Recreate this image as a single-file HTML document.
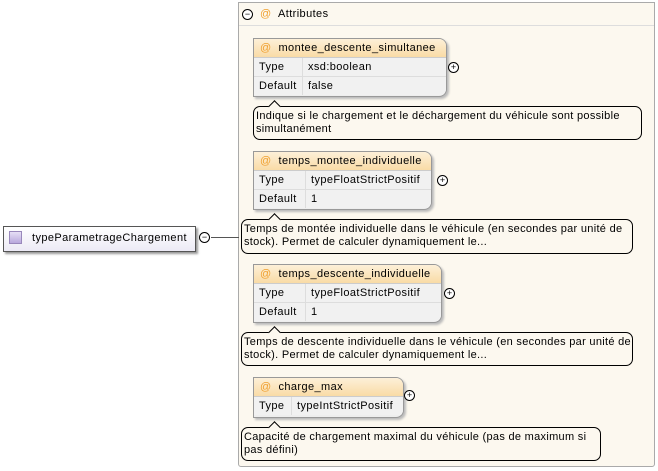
<!DOCTYPE html>
<html><head><meta charset="utf-8"><style>
body{margin:0;width:658px;height:471px;background:#fff;position:relative;font-family:"Liberation Sans",sans-serif;font-size:11px;letter-spacing:0.4px;color:#000;overflow:hidden}
.a{position:absolute}
.cont{left:238px;top:2px;width:417px;height:465px;background:#fcf8ef;border:1px solid #aaa;box-sizing:border-box;border-radius:0 0 3px 3px}
.hdr{left:239px;top:3px;width:415px;height:22px;border-bottom:1px solid #ddd}
.box{border:1px solid #999;border-radius:0 8px 8px 0;background:#eee;box-shadow:2px 2px 2px #bbb;overflow:hidden;white-space:nowrap}
.box .h{height:18px;background:linear-gradient(#fdf0d8,#f9dba6);border-bottom:1px solid #ccc;line-height:19px;padding-left:6px;font-weight:normal}
.box .r{height:18px;line-height:19px;border-bottom:1px solid #ddd;position:relative;background:#f1f1f1}
.box .r span{position:absolute;left:5px}
.box .r b{position:absolute;font-weight:normal}
.box .r i{position:absolute;top:0;bottom:0;border-left:1px solid #ddd}
.at{color:#f0a030}
.cm{border:1px solid #000;border-radius:7px;background:#fcf8ef;font-size:11px;letter-spacing:0.3px;line-height:13px;padding:3px 1px 3px 2px;box-sizing:border-box}
.pt{width:8px;height:8px;background:#fcf8ef;border-left:1px solid #000;border-top:1px solid #000;transform:rotate(45deg)}
.pl{width:9px;height:9px;border:1px solid #000;border-radius:50%;font-size:9px;line-height:9px;text-align:center;background:#fff;letter-spacing:0}
</style></head><body>
<div class="a cont"></div>
<div class="a hdr"></div>
<div class="a pl" style="left:242px;top:9px">−</div>
<div class="a at" style="left:260px;top:8px">@</div>
<div class="a" style="left:278px;top:8px">Attributes</div>

<div class="a" style="left:211px;top:237px;width:28px;height:1px;background:#555"></div>
<div class="a box" style="left:3px;top:226px;width:191px;height:24px;border-radius:0;background:linear-gradient(#fff,#eceaf5);box-shadow:2px 2px 2px #999;border-color:#555"></div>
<div class="a" style="left:9px;top:231px;width:13px;height:13px;background:linear-gradient(#e6dff5,#b9a9dd);border:1px solid #9988bb;box-sizing:border-box"></div>
<div class="a" style="left:32px;top:232px">typeParametrageChargement</div>
<div class="a pl" style="left:199px;top:232px">−</div>

<div class="a box" style="left:253px;top:38px;width:192px;height:57px">
<div class="h"><span class="at">@</span>&nbsp; montee_descente_simultanee</div>
<div class="r"><span>Type</span><i style="left:48px"></i><b style="left:54px">xsd:boolean</b></div>
<div class="r" style="border:0"><span>Default</span><i style="left:48px"></i><b style="left:54px">false</b></div>
</div>
<div class="a pl" style="left:448px;top:62px">+</div>
<div class="a cm" style="left:253px;top:106px;width:389px;height:34px">Indique si le chargement et le déchargement du véhicule sont possible simultanément</div>
<div class="a pt" style="left:270px;top:102px"></div>

<div class="a box" style="left:253px;top:151px;width:177px;height:57px">
<div class="h"><span class="at">@</span>&nbsp; temps_montee_individuelle</div>
<div class="r"><span>Type</span><i style="left:51px"></i><b style="left:57px">typeFloatStrictPositif</b></div>
<div class="r" style="border:0"><span>Default</span><i style="left:51px"></i><b style="left:57px">1</b></div>
</div>
<div class="a pl" style="left:437px;top:175px">+</div>
<div class="a cm" style="left:241px;top:219px;width:392px;height:35px">Temps de montée individuelle dans le véhicule (en secondes par unité de stock). Permet de calculer dynamiquement le...</div>
<div class="a pt" style="left:270px;top:215px"></div>

<div class="a box" style="left:253px;top:264px;width:187px;height:57px">
<div class="h"><span class="at">@</span>&nbsp; temps_descente_individuelle</div>
<div class="r"><span>Type</span><i style="left:51px"></i><b style="left:57px">typeFloatStrictPositif</b></div>
<div class="r" style="border:0"><span>Default</span><i style="left:51px"></i><b style="left:57px">1</b></div>
</div>
<div class="a pl" style="left:444px;top:288px">+</div>
<div class="a cm" style="left:241px;top:332px;width:392px;height:34px">Temps de descente individuelle dans le véhicule (en secondes par unité de stock). Permet de calculer dynamiquement le...</div>
<div class="a pt" style="left:270px;top:328px"></div>

<div class="a box" style="left:253px;top:377px;width:149px;height:39px">
<div class="h"><span class="at">@</span>&nbsp; charge_max</div>
<div class="r" style="border:0"><span>Type</span><i style="left:37px"></i><b style="left:43px">typeIntStrictPositif</b></div>
</div>
<div class="a pl" style="left:404px;top:390px">+</div>
<div class="a cm" style="left:241px;top:427px;width:360px;height:34px">Capacité de chargement maximal du véhicule (pas de maximum si pas défini)</div>
<div class="a pt" style="left:270px;top:423px"></div>
</body></html>
